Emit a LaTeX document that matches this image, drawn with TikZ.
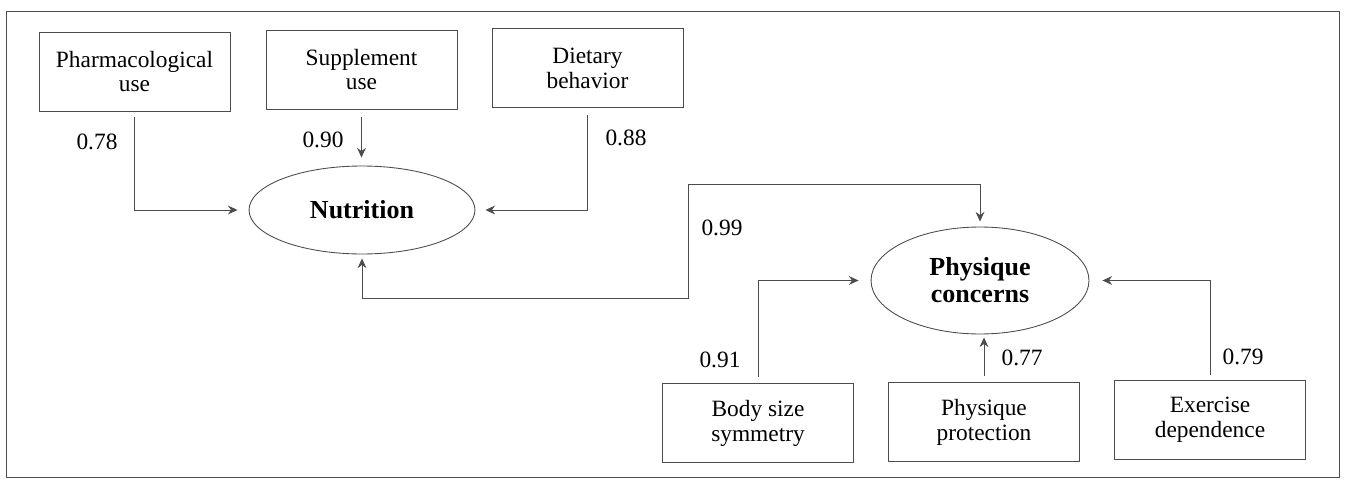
\documentclass[tikz,border=0pt]{standalone}
\usepackage[]{fontspec}
\setmainfont{Liberation Serif}
\usepackage[]{tikz}
\usetikzlibrary{arrows.meta}
\usetikzlibrary{shapes.geometric}
\tikzset{obs/.style = {draw = black!70, line width = 0.5, rectangle, inner sep = 0, minimum width = 3.82cm, minimum height = 1.58cm, align = center, font = \fontsize{13.3}{14.2}\selectfont}}
\tikzset{lat/.style = {draw = black!70, line width = 0.5, ellipse, inner sep = 0, align = center, font = \fontsize{14.8}{15.3}\selectfont\bfseries}}
\tikzset{lbl/.style = {inner sep = 0, font = \fontsize{13.3}{14.2}\selectfont}}
\tikzset{arr/.style = {draw = black!70, line width = 0.5, -{Stealth[length = 5.5pt, width = 5pt]}}}

\begin{document}
\begin{tikzpicture}[x=0.02cm, y=-0.02cm]
            \useasboundingbox (0,0) rectangle (1345,483);
            \draw [black!70, line width=0.5] (6,11) rectangle (1339,477);
            % indicators of nutrition
            \node [obs] (pharm) at (134.5,71.5) {Pharmacological\\use};
            \node [obs] (suppl) at (361.5,69.5) {Supplement\\use};
            \node [obs] (diet) at (587.5,68) {Dietary\\behavior};
            \node [lat, minimum width=4.52cm, minimum height=1.76cm] (nutr) at (362,210) {Nutrition};
            % indicators of physique concerns
            \node [lat, minimum width=4.36cm, minimum height=2.14cm] (phys) at (980,280.5) {Physique\\concerns};
            \node [obs] (body) at (758,423) {Body size\\symmetry};
            \node [obs] (prot) at (984,422) {Physique\\protection};
            \node [obs] (exer) at (1210,420) {Exercise\\dependence};
            \coordinate (lo) at (688,298);
            \coordinate (hi) at (688,184);
            \draw [arr, shorten <=0.12cm, shorten >=0.22cm] (pharm.south) |- (nutr.west);
            \draw [arr, shorten <=0.16cm, shorten >=0.16cm] (suppl.south) -- (suppl.south |- nutr.north);
            \draw [arr, shorten <=0.14cm, shorten >=0.2cm] (diet.south) |- (nutr.east);
            \draw [arr, {Stealth[length = 5.5pt, width = 5pt]}-{Stealth[length = 5.5pt, width = 5pt]}, shorten <=0.08cm, shorten >=0.1cm] (nutr.south) |- (lo) -- (hi) -| (phys.north);
            \draw [arr, shorten <=0.12cm, shorten >=0.24cm] (body.north) |- (phys.west);
            \draw [arr, shorten <=0.12cm, shorten >=0.06cm] (prot.north) -- (prot.north |- phys.south);
            \draw [arr, shorten <=0.1cm, shorten >=0.26cm] (exer.north) |- (phys.east);
            \node [lbl] (l1) at (97,142) {0.78};
            \node [lbl] (l2) at (323,140) {0.90};
            \node [lbl] (l3) at (626,138) {0.88};
            \node [lbl] (l4) at (722,228) {0.99};
            \node [lbl] (l5) at (720,360) {0.91};
            \node [lbl] (l6) at (1022,358) {0.77};
            \node [lbl] (l7) at (1243,357) {0.79};
        \end{tikzpicture}
\end{document}
